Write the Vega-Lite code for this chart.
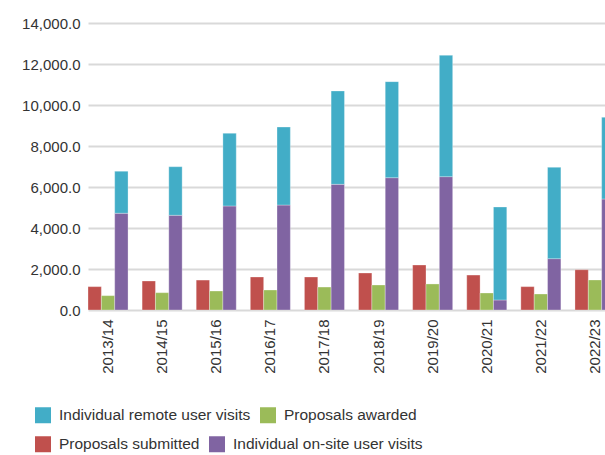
{
  "$schema": "https://vega.github.io/schema/vega-lite/v6.json",
  "width": 517,
  "height": 287,
  "autosize": {"type": "none"},
  "padding": {"left": 88, "top": 23, "right": 0, "bottom": 145},
  "background": "white",
  "config": {
    "font": "Liberation Sans, Arial, sans-serif",
    "view": {"stroke": null},
    "legend": {
      "title": null,
      "orient": "none",
      "direction": "horizontal",
      "symbolType": "square",
      "symbolSize": 256,
      "symbolStrokeWidth": 0,
      "labelFontSize": 15.5,
      "labelLimit": 0,
      "labelColor": "#333333",
      "labelOffset": 8,
      "columnPadding": 9
    }
  },
  "data": {
    "values": [
      {"year": "2013/14", "series": "Proposals submitted", "group": "Proposals submitted", "value": 1140},
      {"year": "2013/14", "series": "Proposals awarded", "group": "Proposals awarded", "value": 700},
      {"year": "2013/14", "series": "Individual on-site user visits", "group": "User visits", "value": 4720},
      {"year": "2013/14", "series": "Individual remote user visits", "group": "User visits", "value": 2050},
      {"year": "2014/15", "series": "Proposals submitted", "group": "Proposals submitted", "value": 1415},
      {"year": "2014/15", "series": "Proposals awarded", "group": "Proposals awarded", "value": 845},
      {"year": "2014/15", "series": "Individual on-site user visits", "group": "User visits", "value": 4620},
      {"year": "2014/15", "series": "Individual remote user visits", "group": "User visits", "value": 2370},
      {"year": "2015/16", "series": "Proposals submitted", "group": "Proposals submitted", "value": 1460},
      {"year": "2015/16", "series": "Proposals awarded", "group": "Proposals awarded", "value": 925},
      {"year": "2015/16", "series": "Individual on-site user visits", "group": "User visits", "value": 5075},
      {"year": "2015/16", "series": "Individual remote user visits", "group": "User visits", "value": 3545},
      {"year": "2016/17", "series": "Proposals submitted", "group": "Proposals submitted", "value": 1610},
      {"year": "2016/17", "series": "Proposals awarded", "group": "Proposals awarded", "value": 975},
      {"year": "2016/17", "series": "Individual on-site user visits", "group": "User visits", "value": 5120},
      {"year": "2016/17", "series": "Individual remote user visits", "group": "User visits", "value": 3805},
      {"year": "2017/18", "series": "Proposals submitted", "group": "Proposals submitted", "value": 1610},
      {"year": "2017/18", "series": "Proposals awarded", "group": "Proposals awarded", "value": 1120},
      {"year": "2017/18", "series": "Individual on-site user visits", "group": "User visits", "value": 6130},
      {"year": "2017/18", "series": "Individual remote user visits", "group": "User visits", "value": 4555},
      {"year": "2018/19", "series": "Proposals submitted", "group": "Proposals submitted", "value": 1805},
      {"year": "2018/19", "series": "Proposals awarded", "group": "Proposals awarded", "value": 1220},
      {"year": "2018/19", "series": "Individual on-site user visits", "group": "User visits", "value": 6455},
      {"year": "2018/19", "series": "Individual remote user visits", "group": "User visits", "value": 4685},
      {"year": "2019/20", "series": "Proposals submitted", "group": "Proposals submitted", "value": 2195},
      {"year": "2019/20", "series": "Proposals awarded", "group": "Proposals awarded", "value": 1270},
      {"year": "2019/20", "series": "Individual on-site user visits", "group": "User visits", "value": 6505},
      {"year": "2019/20", "series": "Individual remote user visits", "group": "User visits", "value": 5920},
      {"year": "2020/21", "series": "Proposals submitted", "group": "Proposals submitted", "value": 1705},
      {"year": "2020/21", "series": "Proposals awarded", "group": "Proposals awarded", "value": 830},
      {"year": "2020/21", "series": "Individual on-site user visits", "group": "User visits", "value": 490},
      {"year": "2020/21", "series": "Individual remote user visits", "group": "User visits", "value": 4535},
      {"year": "2021/22", "series": "Proposals submitted", "group": "Proposals submitted", "value": 1140},
      {"year": "2021/22", "series": "Proposals awarded", "group": "Proposals awarded", "value": 780},
      {"year": "2021/22", "series": "Individual on-site user visits", "group": "User visits", "value": 2505},
      {"year": "2021/22", "series": "Individual remote user visits", "group": "User visits", "value": 4455},
      {"year": "2022/23", "series": "Proposals submitted", "group": "Proposals submitted", "value": 1965},
      {"year": "2022/23", "series": "Proposals awarded", "group": "Proposals awarded", "value": 1465},
      {"year": "2022/23", "series": "Individual on-site user visits", "group": "User visits", "value": 5415},
      {"year": "2022/23", "series": "Individual remote user visits", "group": "User visits", "value": 3985}
    ]
  },
  "encoding": {
    "x": {
      "field": "year",
      "type": "nominal",
      "sort": null,
      "scale": {"range": [0, 527], "paddingInner": 0.26, "paddingOuter": 0},
      "axis": {
        "title": null,
        "labelAngle": -90,
        "labelAlign": "right",
        "labelBaseline": "middle",
        "labelFontSize": 15,
        "labelColor": "#333333",
        "labelPadding": 9,
        "ticks": false,
        "domain": false
      }
    },
    "xOffset": {
      "field": "group",
      "type": "nominal",
      "scale": {"domain": ["Proposals submitted", "Proposals awarded", "User visits"], "paddingInner": 0, "paddingOuter": 0}
    },
    "y": {
      "field": "value",
      "type": "quantitative",
      "scale": {"domain": [0, 14000], "nice": false},
      "axis": {
        "title": null,
        "values": [0, 2000, 4000, 6000, 8000, 10000, 12000, 14000],
        "format": ",.1f",
        "labelFontSize": 15,
        "labelColor": "#333333",
        "labelPadding": 8,
        "ticks": false,
        "domain": false,
        "gridColor": "#d9d9d9",
        "gridWidth": 2
      }
    }
  },
  "layer": [
    {
      "transform": [{"filter": "datum.group != 'User visits'"}],
      "mark": {"type": "bar", "stroke": "white", "strokeOpacity": 0.5, "strokeWidth": 0.6},
      "encoding": {
        "y": {"field": "value", "type": "quantitative", "stack": null},
        "fill": {
          "field": "series",
          "type": "nominal",
          "scale": {
            "domain": ["Proposals submitted", "Individual on-site user visits", "Individual remote user visits", "Proposals awarded"],
            "range": ["#c0504d", "#8064a2", "#42adc7", "#9bbb59"]
          },
          "legend": {
            "values": ["Proposals submitted", "Individual on-site user visits"],
            "legendX": -53,
            "legendY": 413
          }
        }
      }
    },
    {
      "transform": [{"filter": "datum.group == 'User visits'"}],
      "mark": {"type": "bar", "stroke": "white", "strokeOpacity": 0.5, "strokeWidth": 0.6},
      "encoding": {
        "y": {"field": "value", "type": "quantitative", "stack": "zero"},
        "order": {"field": "series", "sort": "ascending"},
        "color": {
          "field": "series",
          "type": "nominal",
          "scale": {
            "domain": ["Individual remote user visits", "Proposals awarded", "Proposals submitted", "Individual on-site user visits"],
            "range": ["#42adc7", "#9bbb59", "#c0504d", "#8064a2"]
          },
          "legend": {
            "values": ["Individual remote user visits", "Proposals awarded"],
            "legendX": -53,
            "legendY": 384
          }
        }
      }
    }
  ]
}
